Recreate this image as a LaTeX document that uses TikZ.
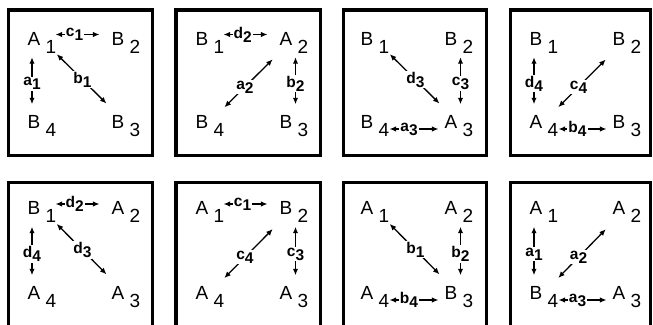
\documentclass[tikz,border=0pt]{standalone}
\usepackage{fontspec}
\setmainfont{Liberation Sans}
\usepackage{tikz}
\usetikzlibrary{arrows.meta}

\begin{document}
\begin{tikzpicture}[
    x=1pt, y=1pt,
    panel/.style={draw, line width=3.5pt, line join=miter},
    ltr/.style={inner sep=0pt, font=\fontsize{19}{19}\selectfont},
    subs/.style={inner sep=0pt, xshift=5pt, yshift=-8pt, font=\fontsize{19}{19}\selectfont},
    sb/.style={label={[subs]east:#1}},
    lbl/.style={fill=white, inner sep=1pt, font=\fontsize{15.5}{15.5}\selectfont\bfseries},
    arr/.style={{Latex[length=6.5pt,width=5.5pt]}-{Latex[length=6.5pt,width=5.5pt]}, line width=1.3pt},
    ht/.style={arr, shorten <=15pt, shorten >=12pt, transform canvas={yshift=4pt}},
    hb/.style={arr, shorten <=16pt, shorten >=6pt, transform canvas={yshift=-7pt}},
    vl/.style={arr, shorten <=12pt, shorten >=11pt, transform canvas={xshift=-2pt}},
    vr/.style={arr, shorten <=12pt, shorten >=11pt, transform canvas={xshift=9.5pt}},
    dl/.style={arr, shorten <=18pt, shorten >=12pt, transform canvas={xshift=3.5pt,yshift=3.5pt}},
    dr/.style={arr, shorten <=15pt, shorten >=17pt, transform canvas={xshift=3.8pt,yshift=-3.8pt}}
]
    \useasboundingbox (0,0) rectangle (653,324);
    \foreach \xa/\xb in {8.25/152.25, 175.75/320.25, 343.25/486.25, 510.25/650.25} {
        \draw[panel] (\xa,168.7) rectangle (\xb,314);
        \draw[panel] (\xa,-4) rectangle (\xb,141.25);
    }

    \node[ltr, sb=1] (p1tl) at (34,285.5) {A};
    \node[ltr, sb=2] (p1tr) at (118,285.5) {B};
    \node[ltr, sb=4] (p1bl) at (34,202) {B};
    \node[ltr, sb=3] (p1br) at (118,202) {B};
    \draw[ht] (p1tl) -- node[lbl, pos=0.48] {c\raisebox{-4pt}{1}} (p1tr);
    \draw[vl] (p1tl) -- node[lbl, pos=0.55] {a\raisebox{-4pt}{1}} (p1bl);
    \draw[dl] (p1tl) -- node[lbl, pos=0.54] {b\raisebox{-4pt}{1}} (p1br);

    \node[ltr, sb=1] (p2tl) at (202,285.5) {B};
    \node[ltr, sb=2] (p2tr) at (286,285.5) {A};
    \node[ltr, sb=4] (p2bl) at (202,202) {B};
    \node[ltr, sb=3] (p2br) at (286,202) {B};
    \draw[ht] (p2tl) -- node[lbl, pos=0.48] {d\raisebox{-4pt}{2}} (p2tr);
    \draw[dr] (p2tr) -- node[lbl, pos=0.54] {a\raisebox{-4pt}{2}} (p2bl);
    \draw[vr] (p2tr) -- node[lbl, pos=0.55] {b\raisebox{-4pt}{2}} (p2br);

    \node[ltr, sb=1] (p3tl) at (367,285.5) {B};
    \node[ltr, sb=2] (p3tr) at (451,285.5) {B};
    \node[ltr, sb=4] (p3bl) at (367,202) {B};
    \node[ltr, sb=3] (p3br) at (451,202) {A};
    \draw[dl] (p3tl) -- node[lbl, pos=0.54] {d\raisebox{-4pt}{3}} (p3br);
    \draw[vr] (p3tr) -- node[lbl, pos=0.55] {c\raisebox{-4pt}{3}} (p3br);
    \draw[hb] (p3bl) -- node[lbl, pos=0.5] {a\raisebox{-4pt}{3}} (p3br);

    \node[ltr, sb=1] (p4tl) at (536,285.5) {B};
    \node[ltr, sb=2] (p4tr) at (619,285.5) {B};
    \node[ltr, sb=4] (p4bl) at (536,202) {A};
    \node[ltr, sb=3] (p4br) at (619,202) {B};
    \draw[vl] (p4tl) -- node[lbl, pos=0.55] {d\raisebox{-4pt}{4}} (p4bl);
    \draw[dr] (p4tr) -- node[lbl, pos=0.54] {c\raisebox{-4pt}{4}} (p4bl);
    \draw[hb] (p4bl) -- node[lbl, pos=0.5] {b\raisebox{-4pt}{4}} (p4br);

    \node[ltr, sb=1] (p5tl) at (34,116) {B};
    \node[ltr, sb=2] (p5tr) at (118,116) {A};
    \node[ltr, sb=4] (p5bl) at (34,31) {A};
    \node[ltr, sb=3] (p5br) at (118,31) {A};
    \draw[ht] (p5tl) -- node[lbl, pos=0.48] {d\raisebox{-4pt}{2}} (p5tr);
    \draw[vl] (p5tl) -- node[lbl, pos=0.55] {d\raisebox{-4pt}{4}} (p5bl);
    \draw[dl] (p5tl) -- node[lbl, pos=0.54] {d\raisebox{-4pt}{3}} (p5br);

    \node[ltr, sb=1] (p6tl) at (202,116) {A};
    \node[ltr, sb=2] (p6tr) at (286,116) {B};
    \node[ltr, sb=4] (p6bl) at (202,31) {A};
    \node[ltr, sb=3] (p6br) at (286,31) {A};
    \draw[ht] (p6tl) -- node[lbl, pos=0.48] {c\raisebox{-4pt}{1}} (p6tr);
    \draw[dr] (p6tr) -- node[lbl, pos=0.54] {c\raisebox{-4pt}{4}} (p6bl);
    \draw[vr] (p6tr) -- node[lbl, pos=0.55] {c\raisebox{-4pt}{3}} (p6br);

    \node[ltr, sb=1] (p7tl) at (367,116) {A};
    \node[ltr, sb=2] (p7tr) at (451,116) {A};
    \node[ltr, sb=4] (p7bl) at (367,31) {A};
    \node[ltr, sb=3] (p7br) at (451,31) {B};
    \draw[dl] (p7tl) -- node[lbl, pos=0.54] {b\raisebox{-4pt}{1}} (p7br);
    \draw[vr] (p7tr) -- node[lbl, pos=0.55] {b\raisebox{-4pt}{2}} (p7br);
    \draw[hb] (p7bl) -- node[lbl, pos=0.5] {b\raisebox{-4pt}{4}} (p7br);

    \node[ltr, sb=1] (p8tl) at (536,116) {A};
    \node[ltr, sb=2] (p8tr) at (619,116) {A};
    \node[ltr, sb=4] (p8bl) at (536,31) {B};
    \node[ltr, sb=3] (p8br) at (619,31) {A};
    \draw[vl] (p8tl) -- node[lbl, pos=0.55] {a\raisebox{-4pt}{1}} (p8bl);
    \draw[dr] (p8tr) -- node[lbl, pos=0.54] {a\raisebox{-4pt}{2}} (p8bl);
    \draw[hb] (p8bl) -- node[lbl, pos=0.5] {a\raisebox{-4pt}{3}} (p8br);
\end{tikzpicture}
\end{document}
